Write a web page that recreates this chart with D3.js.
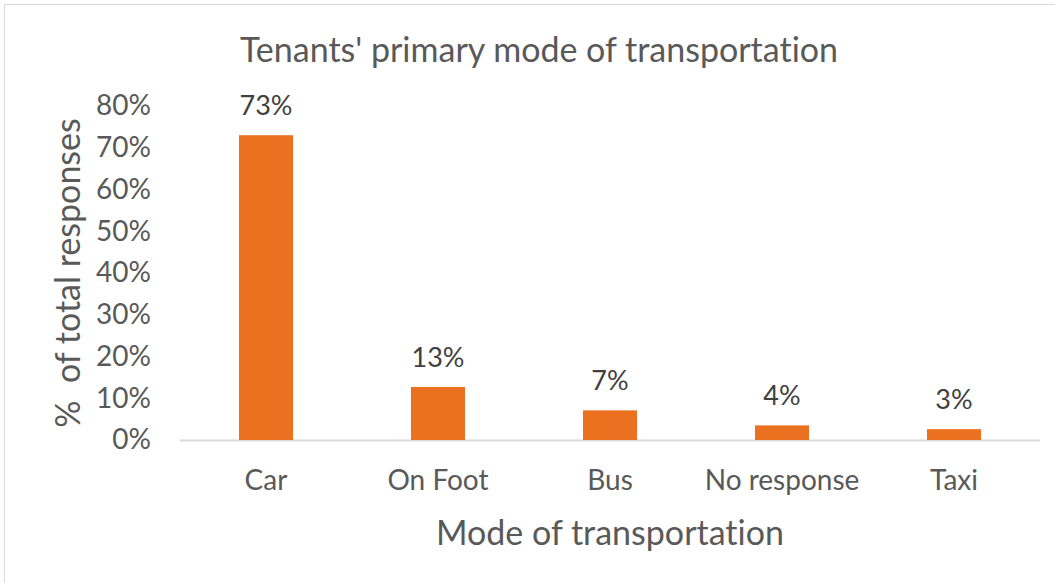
<html>
    <head>
        <style>
            body { margin: 0; background: #fff; }
            text { font-family: Lato, "Open Sans", sans-serif; font-variant-ligatures: none; }
        </style>
    </head>
    <body>
        <svg></svg>
        <script src="https://d3js.org/d3.v7.min.js"></script>
        <script>
            // chart data
            const categories = ["Car", "On Foot", "Bus", "No response", "Taxi"];
            const values = [0.73, 0.127, 0.071, 0.035, 0.026];
            const labels = ["73%", "13%", "7%", "4%", "3%"];
            const yTicks = [0, 0.1, 0.2, 0.3, 0.4, 0.5, 0.6, 0.7, 0.8];

            const width = 1055, height = 583;
            const svg = d3.select("svg").attr("width", width).attr("height", height);

            // outer chart border
            svg.append("rect")
                .attr("x", 4.5).attr("y", 4.5)
                .attr("width", width + 10).attr("height", height + 10)
                .attr("fill", "none").attr("stroke", "#d9d9d9");

            const x = d3.scaleBand().domain(categories).range([180, 1040])
                .paddingInner(0.686).paddingOuter(0.343);
            const y = d3.scaleLinear().domain([0, 0.8]).range([440, 106]);

            // title
            svg.append("text")
                .attr("x", 539).attr("y", 62)
                .attr("text-anchor", "middle")
                .attr("font-size", 34).attr("fill", "#595959")
                .text("Tenants' primary mode of transportation");

            // y axis labels
            const yAxis = d3.axisLeft(y).tickValues(yTicks).tickFormat(d3.format(".0%")).tickSize(0).tickPadding(0);
            const gy = svg.append("g").attr("transform", "translate(151,0)").call(yAxis);
            gy.select(".domain").remove();
            gy.selectAll("text").attr("font-size", 28).attr("fill", "#595959")
                .attr("font-family", "Lato, sans-serif");

            // baseline
            svg.append("line")
                .attr("x1", 180).attr("x2", 1040)
                .attr("y1", y(0) + 0.5).attr("y2", y(0) + 0.5)
                .attr("stroke", "#d9d9d9").attr("stroke-width", 2);

            // bars
            svg.selectAll(".bar")
                .data(values)
                .join("rect")
                .attr("class", "bar")
                .attr("x", function(d, i) { return x(categories[i]); })
                .attr("width", x.bandwidth())
                .attr("y", function(d) { return y(d); })
                .attr("height", function(d) { return y(0) - y(d); })
                .attr("fill", "#eb7121");

            // value labels
            svg.selectAll(".val")
                .data(values)
                .join("text")
                .attr("class", "val")
                .attr("x", function(d, i) { return x(categories[i]) + x.bandwidth() / 2; })
                .attr("y", function(d) { return y(d) - 20; })
                .attr("text-anchor", "middle")
                .attr("font-size", 27).attr("fill", "#404040")
                .text(function(d, i) { return labels[i]; });

            // x axis labels
            const xAxis = d3.axisBottom(x).tickSize(0).tickPadding(0);
            const gx = svg.append("g").attr("transform", "translate(0,470)").call(xAxis);
            gx.select(".domain").remove();
            gx.selectAll("text").attr("font-size", 28).attr("fill", "#595959")
                .attr("font-family", "Lato, sans-serif");

            // axis titles
            svg.append("text")
                .attr("x", 610).attr("y", 545)
                .attr("text-anchor", "middle")
                .attr("font-size", 34).attr("fill", "#595959")
                .text("Mode of transportation");

            svg.append("text")
                .attr("transform", "translate(80,273) rotate(-90)")
                .attr("text-anchor", "middle")
                .style("white-space", "pre")
                .attr("font-size", 34).attr("fill", "#595959")
                .text("%  of total responses");
        </script>
    </body>
</html>
